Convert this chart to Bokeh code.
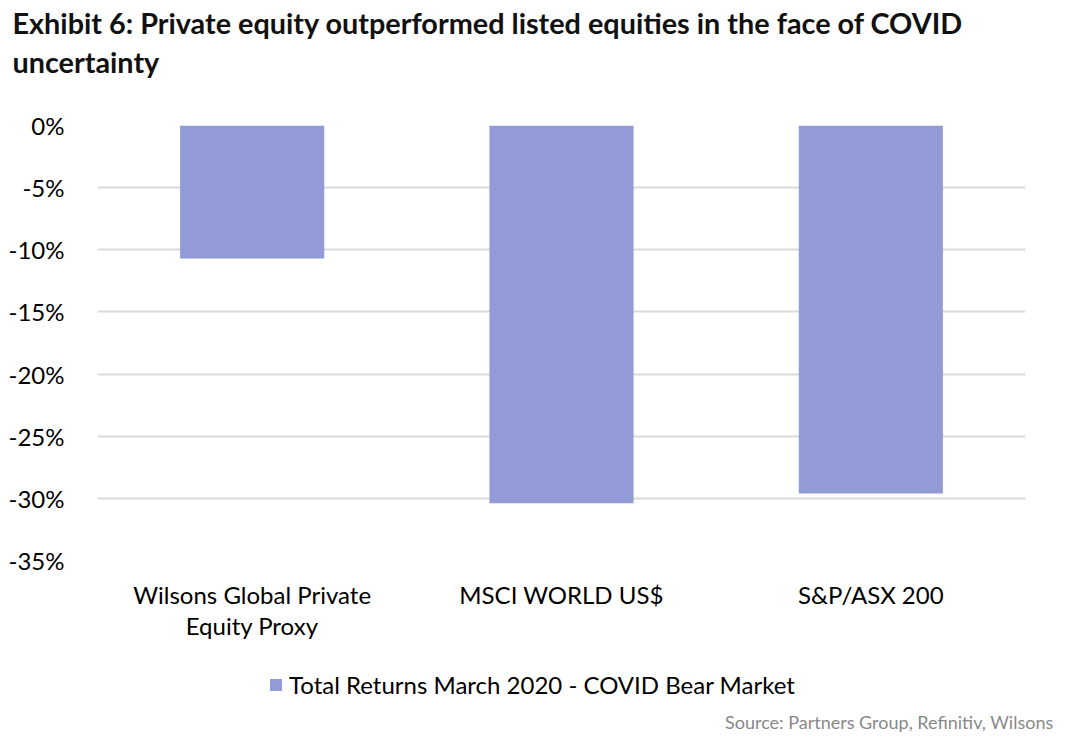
from bokeh.plotting import figure
from bokeh.layouts import column
from bokeh.models import (Range1d, PrintfTickFormatter, Legend, LegendItem,
                          FixedTicker, ColumnDataSource, LinearAxis, CDSView, IndexFilter)
from bokeh.core.properties import value
from bokeh.embed import file_html
from bokeh.resources import INLINE

# ---- data ----
categories = ["Wilsons Global Private Equity Proxy", "MSCI WORLD US$", "S&P/ASX 200"]
category_line1 = ["Wilsons Global Private", "MSCI WORLD US$", "S&P/ASX 200"]
category_line2 = ["Equity Proxy", "", ""]
returns_pct = [-10.7, -30.4, -29.6]
y_ticks = [0, -5, -10, -15, -20, -25, -30, -35]
series_name = "Total Returns March 2020 - COVID Bear Market"
title_lines = ["Exhibit 6: Private equity outperformed listed equities in the face of COVID",
               "uncertainty"]
source_text = "Source: Partners Group, Refinitiv, Wilsons"

BAR = "#939bd7"
FONT = "Lato"
W = 1057
positions = list(range(len(categories)))


def blank_fig(h):
    f = figure(width=W, height=h, x_range=Range1d(0, W), y_range=Range1d(h, 0),
               x_axis_type=None, y_axis_type=None, output_backend="svg",
               toolbar_location=None, title=None, min_border=0, min_border_left=0,
               min_border_right=0, min_border_top=0, min_border_bottom=0)
    f.frame_align = False
    f.outline_line_color = None
    f.grid.visible = False
    f.background_fill_color = "white"
    f.border_fill_color = "white"
    return f


# ---- title ----
ptitle = blank_fig(100)
ptitle.text(x=[12, 12], y=[22, 61], text=title_lines, text_align="left",
            text_baseline="alphabetic", text_font=value(FONT), text_font_size="28.8px",
            text_font_style="bold", text_color="#111111")

# ---- main chart ----
src = ColumnDataSource(dict(x=positions, cat=categories, val=returns_pct,
                            zero=[0] * len(categories)))

p = figure(x_range=Range1d(-0.5, len(categories) - 0.5), y_range=Range1d(-35, 0),
           width=W, height=545, output_backend="svg", toolbar_location=None, title=None,
           min_border_left=97, min_border_right=32, min_border_top=25, min_border_bottom=85)
p.frame_align = False
p.outline_line_color = None
p.background_fill_color = "white"
p.border_fill_color = "white"

p.vbar(x="x", top="zero", bottom="val", width=0.466, source=src,
       fill_color=BAR, line_color=None)

xa = p.xaxis[0]
xa.ticker = FixedTicker(ticks=positions)
xa.major_label_overrides = {i: t for i, t in zip(positions, category_line1)}
xa2 = LinearAxis(ticker=FixedTicker(ticks=[i for i, t in zip(positions, category_line2) if t]),
                 major_label_overrides={i: t for i, t in zip(positions, category_line2) if t})
p.add_layout(xa2, "below")
for ax, so in ((xa, 13), (xa2, -7)):
    ax.axis_line_color = None
    ax.major_tick_line_color = None
    ax.minor_tick_line_color = None
    ax.major_label_text_font = FONT
    ax.major_label_text_font_size = "24px"
    ax.major_label_text_color = "#000000"
    ax.major_label_standoff = so

p.yaxis.axis_line_color = None
p.yaxis.major_tick_line_color = None
p.yaxis.minor_tick_line_color = None
p.yaxis.ticker = FixedTicker(ticks=y_ticks)
p.yaxis.formatter = PrintfTickFormatter(format="%d%%")
p.yaxis.major_label_text_font = FONT
p.yaxis.major_label_text_font_size = "24px"
p.yaxis.major_label_text_color = "#000000"
p.yaxis.major_label_standoff = 27

p.xgrid.grid_line_color = None
p.ygrid.grid_line_color = "#d9d9d9"
p.ygrid.grid_line_width = 2

# ---- legend + source ----
pbot = blank_fig(91)
# swatch renderer: same series style; its single bar falls outside this strip's range
swatch = pbot.vbar(x="x", top="zero", bottom="val", width=0.466, source=src,
                   view=CDSView(filter=IndexFilter([0])),
                   fill_color=BAR, line_color=None)
legend = Legend(items=[LegendItem(label=series_name, renderers=[swatch])],
                orientation="horizontal", location=(268, 37),
                label_text_font=FONT, label_text_font_size="24px",
                label_text_color="#000000", label_height=16,
                glyph_width=15, glyph_height=15, label_standoff=6,
                border_line_color=None, background_fill_alpha=0,
                padding=0, margin=0)
pbot.add_layout(legend, "center")
pbot.text(x=[1053], y=[76], text=[source_text], text_align="right",
          text_baseline="alphabetic", text_font=value(FONT), text_font_size="18px",
          text_color="#888888")

layout = column(ptitle, p, pbot, spacing=0)
open("out.html", "w").write(file_html(layout, INLINE))
